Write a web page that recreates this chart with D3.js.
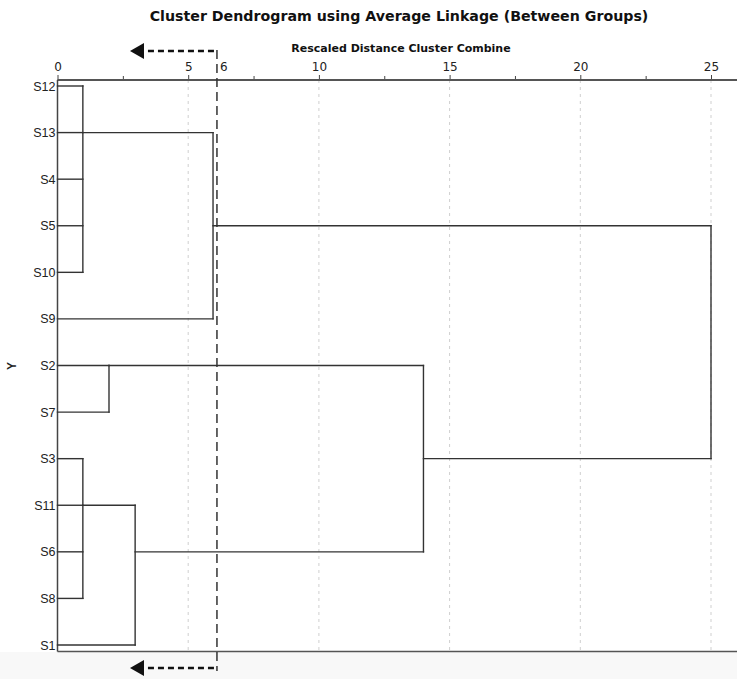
<!DOCTYPE html>
<html>
<head>
<meta charset="utf-8">
<script src="https://cdn.jsdelivr.net/npm/d3@7"></script>
<style>
  body { margin: 0; background: #fff; }
  svg { display: block; }
</style>
</head>
<body>
<script>
// leaf order as it appears down the left side
var leaves = ["S12", "S13", "S4", "S5", "S10", "S9", "S2", "S7", "S3", "S11", "S6", "S8", "S1"];

// merges: id, rescaled distance, what joins, and which row the joined cluster carries on
var mergeIds = ["m1", "m2", "m3", "m4", "m5", "m6", "m7"];
var mergeHeights = [0.97, 5.95, 1.97, 0.97, 2.97, 14, 25];
var mergeChildren = [
  ["S12", "S13", "S4", "S5", "S10"],
  ["m1", "S9"],
  ["S2", "S7"],
  ["S3", "S11", "S6", "S8"],
  ["m4", "S1"],
  ["m3", "m5"],
  ["m2", "m6"]
];
var mergeRows = ["S13", "S5", "S2", "S11", "S6", "S3", "S5"];

var majorTicks = [0, 5, 10, 15, 20, 25];
var minorTicks = [2.5, 7.5, 12.5, 17.5, 22.5];
var cutValue = 6.1; // drawn just right of the 5.95 merge, labelled "6"

var W = 737, H = 679;
var labelFont = "DejaVu Sans, Verdana, sans-serif";

var svg = d3.select("body").append("svg")
  .attr("width", W)
  .attr("height", H);

// faint grey strip under the plot
svg.append("rect")
  .attr("x", 0).attr("y", 652)
  .attr("width", W).attr("height", H - 652)
  .attr("fill", "#f8f8f8");

var x = d3.scaleLinear().domain([0, 25]).range([57.5, 711]);
var y = d3.scalePoint().domain(leaves).range([86, 645]);

var yTop = 80, yBot = 651.5;

// dotted grid lines at major ticks
svg.selectAll("line.grid")
  .data(majorTicks.slice(1))
  .enter().append("line")
  .attr("class", "grid")
  .attr("x1", function (d) { return x(d); })
  .attr("x2", function (d) { return x(d); })
  .attr("y1", yTop)
  .attr("y2", yBot)
  .attr("stroke", "#cfcfcf")
  .attr("stroke-width", 1)
  .attr("stroke-dasharray", "3,4");

// top axis
var axTop = svg.append("g")
  .attr("transform", "translate(0," + yTop + ")")
  .call(d3.axisTop(x).tickValues(majorTicks).tickSize(5).tickPadding(4));
axTop.select(".domain").remove();
axTop.selectAll("text")
  .attr("font-family", labelFont)
  .attr("font-size", 12)
  .attr("fill", "#222");
axTop.selectAll("line").attr("stroke", "#444");

var axMinor = svg.append("g")
  .attr("transform", "translate(0," + yTop + ")")
  .call(d3.axisTop(x).tickValues(minorTicks).tickSize(4).tickFormat(""));
axMinor.select(".domain").remove();
axMinor.selectAll("line").attr("stroke", "#444");

// frame lines
svg.append("line")
  .attr("x1", x(0)).attr("x2", W)
  .attr("y1", yTop).attr("y2", yTop)
  .attr("stroke", "#555").attr("stroke-width", 2);
svg.append("line")
  .attr("x1", x(0)).attr("x2", W)
  .attr("y1", yBot).attr("y2", yBot)
  .attr("stroke", "#555").attr("stroke-width", 1.5);
svg.append("line")
  .attr("x1", x(0)).attr("x2", x(0))
  .attr("y1", yTop).attr("y2", yBot)
  .attr("stroke", "#444").attr("stroke-width", 1.5);

// leaf labels
var axLeft = svg.append("g")
  .attr("transform", "translate(" + x(0) + ",0)")
  .call(d3.axisLeft(y).tickSize(0).tickPadding(2));
axLeft.select(".domain").remove();
axLeft.selectAll("text")
  .attr("font-family", "Liberation Sans, Arial, sans-serif")
  .attr("font-size", 12.5)
  .attr("fill", "#222");

// dendrogram segments
var heightOf = {}, rowOf = {};
leaves.forEach(function (l) { heightOf[l] = 0; rowOf[l] = l; });
mergeIds.forEach(function (id, i) { heightOf[id] = mergeHeights[i]; rowOf[id] = mergeRows[i]; });

var segs = [];
mergeIds.forEach(function (id, i) {
  var h = mergeHeights[i];
  var ys = mergeChildren[i].map(function (c) { return y(rowOf[c]); });
  segs.push({ x1: h, x2: h, y1: d3.min(ys), y2: d3.max(ys) });
  mergeChildren[i].forEach(function (c) {
    var yy = y(rowOf[c]);
    segs.push({ x1: heightOf[c], x2: h, y1: yy, y2: yy });
  });
});

svg.selectAll("line.link")
  .data(segs)
  .enter().append("line")
  .attr("class", "link")
  .attr("x1", function (d) { return x(d.x1); })
  .attr("x2", function (d) { return x(d.x2); })
  .attr("y1", function (d) { return d.y1; })
  .attr("y2", function (d) { return d.y2; })
  .attr("stroke", "#333")
  .attr("stroke-width", 1.4)
  .attr("stroke-linecap", "square");

// cut line
svg.append("line")
  .attr("x1", x(cutValue)).attr("x2", x(cutValue))
  .attr("y1", 50).attr("y2", 671)
  .attr("stroke", "#333")
  .attr("stroke-width", 1.5)
  .attr("stroke-dasharray", "9,5");

svg.append("text")
  .attr("x", x(cutValue) + 3).attr("y", yTop - 9)
  .attr("font-family", labelFont)
  .attr("font-size", 12)
  .attr("fill", "#222")
  .text(d3.format(".0f")(cutValue));

// arrows pointing left from the cut line
[51, 668].forEach(function (ay) {
  svg.append("line")
    .attr("x1", x(cutValue) - 3).attr("x2", 141)
    .attr("y1", ay).attr("y2", ay)
    .attr("stroke", "#111")
    .attr("stroke-width", 2.5)
    .attr("stroke-dasharray", "6,4");
  svg.append("path")
    .attr("d", "M130," + ay + "L144," + (ay - 8) + "L144," + (ay + 8) + "Z")
    .attr("fill", "#111");
});

// titles
svg.append("text")
  .attr("x", 399).attr("y", 21)
  .attr("text-anchor", "middle")
  .attr("font-family", labelFont)
  .attr("font-weight", "bold")
  .attr("font-size", 14.2)
  .attr("fill", "#111")
  .text("Cluster Dendrogram using Average Linkage (Between Groups)");

svg.append("text")
  .attr("x", 401).attr("y", 52)
  .attr("text-anchor", "middle")
  .attr("font-family", labelFont)
  .attr("font-weight", "bold")
  .attr("font-size", 11)
  .attr("fill", "#111")
  .text("Rescaled Distance Cluster Combine");

svg.append("text")
  .attr("transform", "translate(16,366) rotate(-90)")
  .attr("text-anchor", "middle")
  .attr("font-family", "Liberation Sans, Arial, sans-serif")
  .attr("font-weight", "bold")
  .attr("font-size", 12)
  .attr("fill", "#222")
  .text("Y");
</script>
</body>
</html>
